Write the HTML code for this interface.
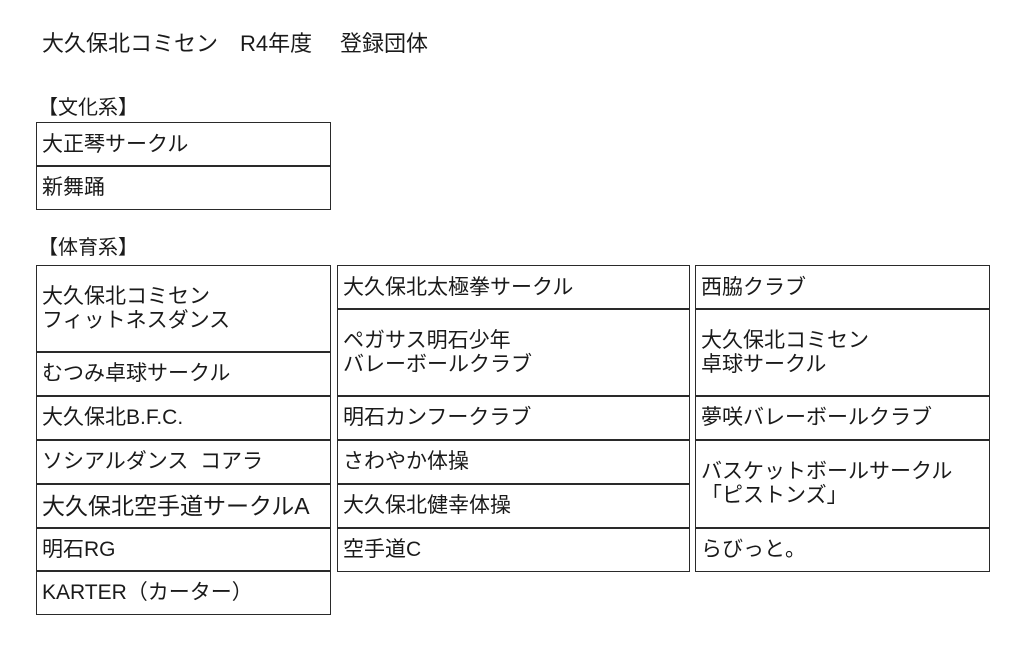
<!DOCTYPE html>
<html><head><meta charset="utf-8"><style>
body{margin:0;width:1024px;height:646px;background:#fff;position:relative;overflow:hidden;font-family:"Liberation Sans","Noto Sans CJK JP",sans-serif;color:#1a1a1a}
.t{position:absolute;white-space:nowrap}
.b{position:absolute;box-sizing:border-box;border:1.8px solid #2a2a2a;display:flex;align-items:center;padding-left:5px;font-size:21px;line-height:24px;white-space:nowrap}
</style></head><body>
<div class="t" style="left:42px;top:26px;font-size:22px">大久保北コミセン</div>
<div class="t" style="left:240px;top:26px;font-size:22px">R4年度</div>
<div class="t" style="left:340px;top:26px;font-size:22px">登録団体</div>
<div class="t" style="left:38px;top:91px;font-size:20px">【文化系】</div>
<div class="b" style="left:36px;top:122px;width:295px;height:45px">大正琴サークル</div>
<div class="b" style="left:36px;top:165px;width:295px;height:45px">新舞踊</div>
<div class="t" style="left:38px;top:231px;font-size:20px">【体育系】</div>

<div class="b" style="left:36px;top:265px;width:295px;height:88px">大久保北コミセン<br>フィットネスダンス</div>
<div class="b" style="left:36px;top:351px;width:295px;height:46px">むつみ卓球サークル</div>
<div class="b" style="left:36px;top:395px;width:295px;height:46px">大久保北B.F.C.</div>
<div class="b" style="left:36px;top:439px;width:295px;height:46px">ソシアルダンス&nbsp;&nbsp;コアラ</div>
<div class="b" style="left:36px;top:483px;width:295px;height:46px;font-size:23px">大久保北空手道サークルA</div>
<div class="b" style="left:36px;top:527px;width:295px;height:45px">明石RG</div>
<div class="b" style="left:36px;top:570px;width:295px;height:45px">KARTER（カーター）</div>

<div class="b" style="left:337px;top:265px;width:353px;height:45px">大久保北太極拳サークル</div>
<div class="b" style="left:337px;top:308px;width:353px;height:89px">ペガサス明石少年<br>バレーボールクラブ</div>
<div class="b" style="left:337px;top:395px;width:353px;height:46px">明石カンフークラブ</div>
<div class="b" style="left:337px;top:439px;width:353px;height:46px">さわやか体操</div>
<div class="b" style="left:337px;top:483px;width:353px;height:46px">大久保北健幸体操</div>
<div class="b" style="left:337px;top:527px;width:353px;height:45px">空手道C</div>

<div class="b" style="left:695px;top:265px;width:295px;height:45px">西脇クラブ</div>
<div class="b" style="left:695px;top:308px;width:295px;height:89px">大久保北コミセン<br>卓球サークル</div>
<div class="b" style="left:695px;top:395px;width:295px;height:46px">夢咲バレーボールクラブ</div>
<div class="b" style="left:695px;top:439px;width:295px;height:90px">バスケットボールサークル<br>「ピストンズ」</div>
<div class="b" style="left:695px;top:527px;width:295px;height:45px">らびっと。</div>
</body></html>
